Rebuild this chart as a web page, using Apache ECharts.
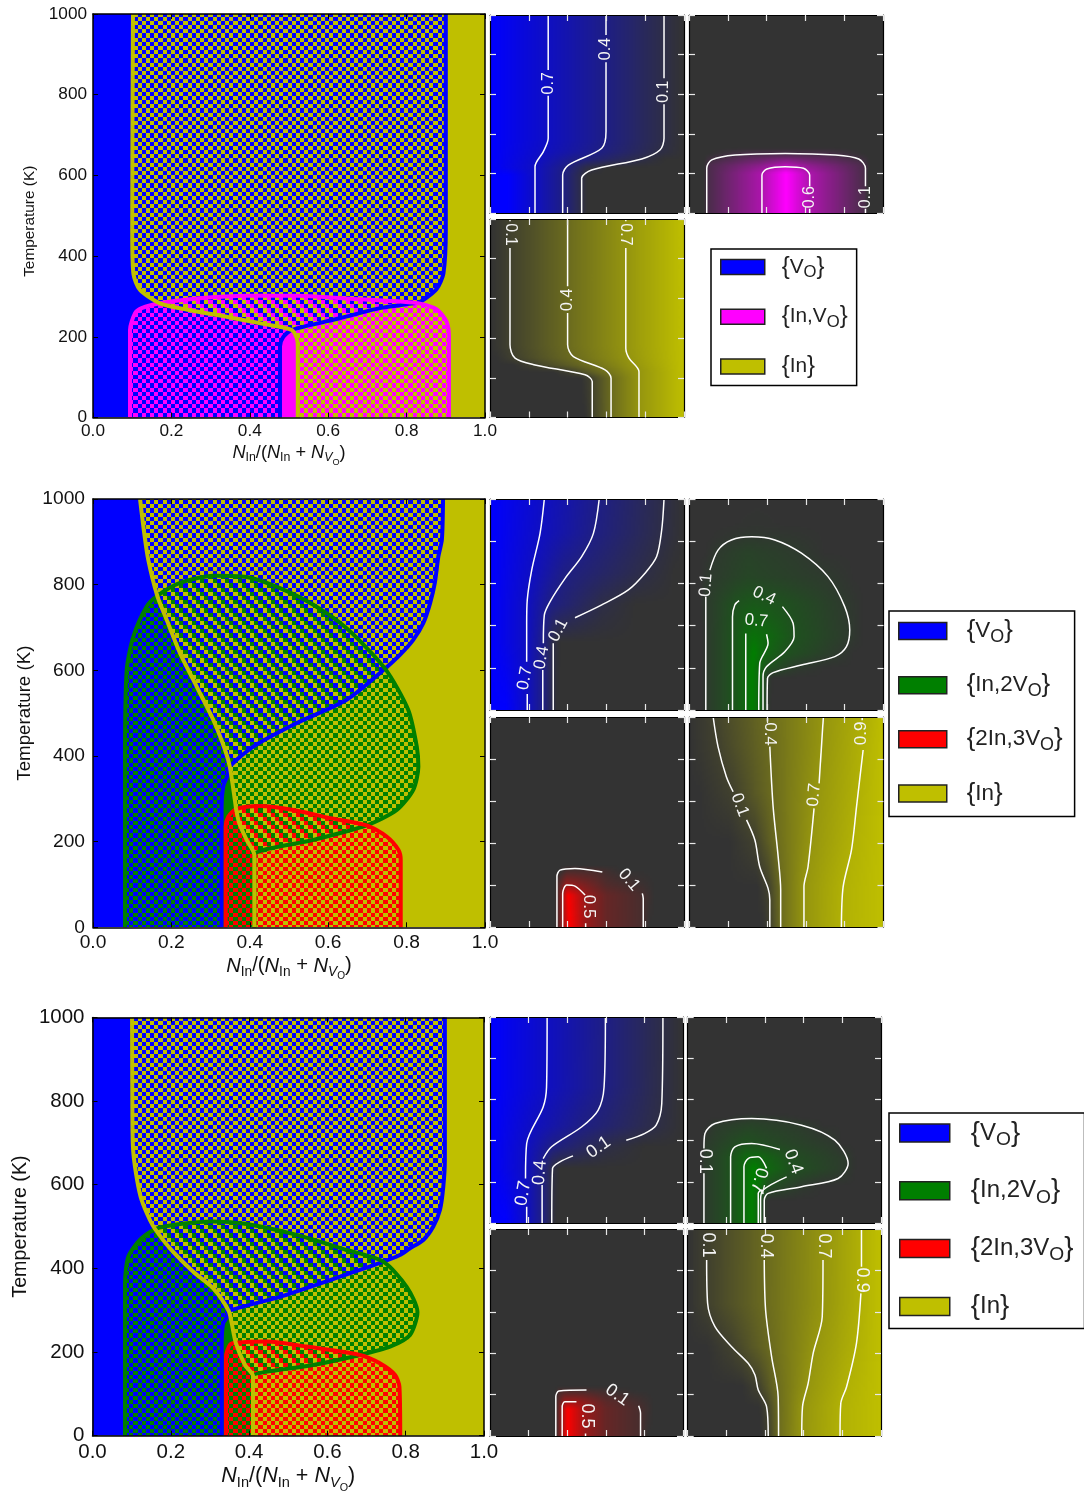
<!DOCTYPE html>
<html><head><meta charset="utf-8">
<script src="https://cdn.jsdelivr.net/npm/echarts@6/dist/echarts.min.js"></script>
<style>html,body{margin:0;padding:0;background:#fff}#c{width:1084px;height:1493px}</style></head>
<body><div id="c"></div>
<script>
/* ---------- phase colours ---------- */
const BLUE='#0000FF', YEL='#BFBF00', MAG='#FF00FF', GRN='#007F00', RED='#FF0000';
const xTicksStep=0.2, yTicksStep=200;

/* ---------- top phase diagram boundaries [x,T] ---------- */
const topI1=[.171,283], topI2=[.825,284], topC=[.507,217];
const topB1=[[.9,1000],[.9,465],[.894,357],[.877,319],[.845,293],topI2];
const topB2=[topI2,[.732,271],[.63,246],topC];
const topB3=[topC,[.4855,200],[.477,176],[.477,0]];
const topY1=[[.102,1000],[.1,465],[.103,357],[.12,316],topI1];
const topY2=[topI1,[.2474,266],[.349,248],[.4515,229],topC];
const topY3=[topC,[.52,196],[.5224,176],[.5224,0]];
const topM1=[[.0944,0],[.0944,217],[.107,258],[.124,271],topI1];
const topM2=[topI1,[.2645,295],[.392,302],[.52,302],[.647,295],topI2];
const topM3=[topI2,[.877,268],[.902,237],[.908,200],[.908,0]];

/* ---------- middle phase diagram ---------- */
const midI1=[.164,774], midI2=[.745,604], midC1=[.349,375], midR1=[.365,276], midR2=[.698,238], midC2=[.4116,169];
const midB1=[[.893,1000],[.89,905],[.881,866],[.872,804],[.86,757],[.8425,710],[.817,671],[.783,636],midI2];
const midB2=[midI2,[.647,531],[.52,477],[.409,422],midC1];
const midB3=[midC1,[.342,352],[.332,328],[.328,280],[.328,0]];
const midY1=[[.12,1000],[.13,925],[.141,858],midI1];
const midY2=[midI1,[.188,718],[.222,640],[.2645,562],[.307,484],[.337,414],midC1];
const midY3=[midC1,[.362,297],midR1];
const midY4=[midR1,[.373,243],[.392,204],midC2];
const midY5=[midC2,[.4116,134],[.4116,0]];
const midG1=[[.0816,0],[.0816,400],[.086,601],[.103,679],[.137,749],midI1];
const midG2=[midI1,[.222,804],[.307,821],[.392,818],[.477,792],[.562,753],[.647,698],midI2];
const midG3=[midI2,[.804,508],[.826,422],[.83,375],[.817,321],[.775,274],midR2];
const midG4=[midR2,[.562,204],midC2];
const midR1s=[[.3385,0],[.3385,235],[.345,258],midR1];
const midR2s=[midR1,[.426,283],[.511,274],[.605,255],midR2];
const midR3s=[midR2,[.749,212],[.779,181],[.785,157],[.785,0]];

/* ---------- bottom phase diagram ---------- */
const botI1=[.16,494], botI2=[.743,416], botC1=[.348,298], botR1=[.366,222], botR2=[.683,193], botC2=[.41,143];
const botB1=[[.9,1000],[.9,659],[.896,595],[.8876,540],[.8705,500],[.845,468],[.811,448],[.785,432],botI2];
const botB2=[botI2,[.607,372],[.479,332],botC1];
const botB3=[botC1,[.344,284],[.334,269],[.33,220],[.33,0]];
const botY1=[[.101,1000],[.102,750],[.104,680],[.114,611],[.1256,563],[.147,515],botI1];
const botY2=[botI1,[.198,448],[.2575,392],[.3086,352],botC1];
const botY3=[botC1,[.3555,269],botR1];
const botY4=[botR1,[.3895,169],botC2];
const botY5=[botC2,[.41,125],[.41,0]];
const botG1=[[.083,0],[.083,364],[.0915,428],[.121,468],botI1];
const botG2=[botI1,[.2235,506],[.3086,512],[.394,506],[.5216,480],[.649,444],botI2];
const botG3=[botI2,[.8025,356],[.83,296],[.811,241],[.76,213],botR2];
const botG4=[botR2,[.564,169],botC2];
const botR1s=[[.341,0],[.341,189],[.351,217],botR1];
const botR2s=[botR1,[.445,225],[.547,213],botR2];
const botR3s=[botR2,[.734,173],[.773,145],[.784,117],[.786,0]];

/* ---------- small panels: field rows [T, [[x,v]...]], contours [x,T], labels [x,T,text,deg] ---------- */
const topAField=[[1000,[[0,1],[.3,.7],[.598,.4],[.897,.1],[1,0]]],[370,[[0,1],[.3,.7],[.598,.4],[.897,.1],[1,0]]],[310,[[0,1],[.275,.7],[.56,.4],[.875,.1],[1,0]]],[270,[[0,1],[.25,.7],[.44,.4],[.78,.1],[.9,0]]],[230,[[0,1],[.232,.7],[.385,.4],[.5,.1],[.6,0]]],[190,[[0,1],[.09,1],[.232,.7],[.3746,.4],[.4725,.1],[.5,0]]],[0,[[0,1],[.09,1],[.232,.7],[.3746,.4],[.4725,.1],[.5,0]]]];
const topALines=[[[.3,1000],[.3,722]],[[.3,592],[.3,377],[.275,310],[.232,234],[.232,0]],[[.598,1000],[.598,899]],[[.598,761],[.598,411],[.576,327],[.404,242],[.3746,192],[.3746,0]],[[.897,1000],[.897,680]],[[.897,549],[.897,377],[.876,318],[.782,273],[.524,217],[.4725,175],[.4725,0]]];
const topALabels=[[.3,655,'0.7',90],[.598,828,'0.4',90],[.897,613,'0.1',90]];

const topBField=[[1000,[[0,0]]],[330,[[0,0]]],[300,[[.1,0],[.3,.1],[.7,.1],[.9,0]]],[240,[[.08,0],[.1,.12],[.38,.45],[.5,.65],[.62,.45],[.9,.12],[.93,0]]],[200,[[.08,0],[.0914,.1],[.376,.6],[.5,1],[.622,.6],[.9096,.1],[.92,0]]],[0,[[.08,0],[.0914,.1],[.376,.6],[.5,1],[.622,.6],[.9096,.1],[.92,0]]]];
const topBLines=[[[.0914,0],[.0914,226],[.117,268],[.238,293],[.496,301],[.7545,293],[.875,273],[.9096,226],[.9096,135]],[[.9096,22],[.9096,0]],[[.376,0],[.376,192],[.4016,222],[.496,234],[.59,226],[.622,192],[.622,135]],[[.622,22],[.622,0]]];
const topBLabels=[[.9096,80,'0.1',90],[.622,80,'0.6',90]];

const topCField=[[1000,[[0,0],[.103,.1],[.4,.4],[.7,.7],[1,1]]],[360,[[0,0],[.103,.1],[.4,.4],[.7,.7],[1,1]]],[300,[[.03,0],[.129,.1],[.43,.4],[.7165,.7],[1,1]]],[265,[[.12,0],[.232,.1],[.5,.4],[.74,.7],[1,1]]],[230,[[.33,0],[.42,.1],[.57,.4],[.768,.7],[1,1]]],[200,[[.47,0],[.52,.1],[.624,.4],[.768,.7],[1,1]]],[0,[[.49,0],[.527,.1],[.624,.4],[.768,.7],[1,1]]]];
const topCLines=[[[.103,1000],[.103,989]],[[.103,854],[.103,366],[.129,299],[.232,265],[.49,215],[.527,181],[.527,0]],[[.4,1000],[.4,661]],[[.4,526],[.4,366],[.43,307],[.593,240],[.624,198],[.624,0]],[[.7,1000],[.7,989]],[[.7,854],[.7,349],[.7165,299],[.768,231],[.768,0]]];
const topCLabels=[[.103,922,'0.1',-90],[.4,593,'0.4',90],[.7,922,'0.7',-90]];

const midAField=[[1000,[[0,1],[.28,.7],[.563,.4],[.897,.1],[1,0]]],[840,[[0,1],[.258,.7],[.533,.4],[.885,.1],[1,0]]],[650,[[0,1],[.215,.7],[.38,.4],[.8,.1],[.95,0]]],[500,[[0,1],[.19,.7],[.31,.4],[.576,.1],[.75,0]]],[320,[[0,1],[.189,.7],[.275,.4],[.326,.1],[.36,0]]],[0,[[0,1],[.08,1],[.192,.7],[.272,.4],[.326,.1],[.34,0]]]];
const midALines=[[[.28,1000],[.258,837],[.215,663],[.192,521],[.189,411],[.189,229]],[[.192,76],[.192,0]],[[.563,1000],[.533,837],[.4725,727],[.387,624],[.309,513],[.28,450],[.275,316]],[[.272,190],[.272,0]],[[.897,1000],[.885,853],[.859,727],[.799,648],[.713,569],[.576,498],[.438,437]],[[.326,316],[.326,0]]];
const midALabels=[[.18,150,'0.7',80],[.266,248,'0.4',80],[.352,379,'0.1',62]];

const midBField=[[1000,[[0,0]]],[880,[[.2,0],[.35,.02],[.5,0]]],[820,[[.1,0],[.3,.08],[.5,.06],[.7,0]]],[750,[[.08,0],[.15,.1],[.3,.2],[.56,.1],[.7,0]]],[630,[[.05,0],[.105,.1],[.3,.25],[.71,.1],[.85,0]]],[500,[[.06,0],[.084,.1],[.24,.4],[.33,.5],[.48,.4],[.8,.1],[.9,0]]],[350,[[.07,0],[.084,.1],[.2216,.4],[.29,.7],[.33,.8],[.4,.7],[.54,.4],[.82,.1],[.9,0]]],[270,[[.07,0],[.084,.1],[.2216,.4],[.29,.7],[.33,1],[.38,.7],[.49,.4],[.76,.1],[.85,0]]],[200,[[.07,0],[.084,.1],[.2216,.4],[.29,.7],[.32,1],[.36,.7],[.397,.4],[.55,.1],[.7,0]]],[150,[[.07,0],[.084,.1],[.2216,.4],[.29,.7],[.32,1],[.36,.7],[.379,.4],[.402,.1],[.43,0]]],[0,[[.07,0],[.084,.1],[.2216,.4],[.29,.7],[.32,1],[.357,.7],[.379,.4],[.4,.1],[.42,0]]]];
const midBLines=[[[.084,0],[.084,537]],[[.105,663],[.147,758],[.216,806],[.32,821],[.44,806],[.577,743],[.714,632],[.8,490],[.826,379],[.809,300],[.749,253],[.577,213],[.431,177],[.402,150],[.4,0]],[[.2216,0],[.2216,442],[.2335,498],[.2557,518]],[[.479,490],[.534,411],[.539,347],[.491,276],[.397,205],[.379,158],[.379,0]],[[.29,0],[.29,363]],[[.397,359],[.405,316],[.362,221],[.357,0]]];
const midBLabels=[[.085,592,'0.1',85],[.385,540,'0.4',-25],[.345,422,'0.7',-5]];

const midCField=[[1000,[[0,0]]],[295,[[0,0]]],[270,[[.36,0],[.4,.1],[.55,.1],[.68,0]]],[200,[[.34,0],[.345,.1],[.395,.5],[.438,.45],[.6,.15],[.78,.05],[.85,0]]],[150,[[.34,0],[.345,.1],[.375,.5],[.4,1],[.49,.5],[.6,.25],[.785,.1],[.85,0]]],[0,[[.34,0],[.345,.1],[.3746,.5],[.41,1],[.493,.5],[.6,.25],[.79,.1],[.82,0]]]];
const midCLines=[[[.345,0],[.345,240],[.361,271],[.438,279],[.579,262]],[[.785,160],[.79,136],[.79,0]],[[.3746,0],[.3746,160],[.395,200],[.438,195],[.49,152]],[[.493,18],[.493,0]]];
const midCLabels=[[.7165,224,'0.1',-50],[.507,97,'0.5',-90]];

const midDField=[[1000,[[0,0],[.122,.1],[.402,.4],[.69,.7],[.92,.9],[1,1]]],[860,[[0,0],[.147,.1],[.414,.4],[.68,.7],[.895,.9],[1,1]]],[640,[[.05,0],[.225,.1],[.425,.4],[.65,.7],[.875,.9],[1,1]]],[410,[[.2,0],[.337,.1],[.445,.4],[.625,.7],[.84,.9],[1,1]]],[190,[[.35,0],[.405,.1],[.47,.4],[.59,.7],[.792,.9],[1,1]]],[0,[[.38,0],[.414,.1],[.47,.4],[.59,.7],[.783,.9],[1,1]]]];
const midDLines=[[[.122,1000],[.147,859],[.19,716],[.225,644]],[[.294,510],[.337,414],[.362,287],[.405,184],[.414,129],[.414,0]],[[.402,1000],[.402,978]],[[.414,859],[.431,573],[.457,335],[.47,176],[.47,0]],[[.69,1000],[.668,684]],[[.642,565],[.611,287],[.59,192],[.59,0]],[[.89,1000],[.89,985]],[[.895,843],[.861,573],[.835,367],[.792,192],[.783,0]]];
const midDLabels=[[.259,581,'0.1',-70],[.414,919,'0.4',-90],[.642,629,'0.7',85],[.887,922,'0.9',90]];

const botAField=[[1000,[[0,1],[.296,.7],[.598,.4],[.896,.1],[1,0]]],[660,[[0,1],[.293,.7],[.591,.4],[.89,.1],[1,0]]],[470,[[0,1],[.22,.7],[.474,.4],[.86,.1],[1,0]]],[370,[[0,1],[.19,.7],[.319,.4],[.6,.1],[.8,0]]],[265,[[0,1],[.184,.7],[.27,.4],[.324,.1],[.36,0]]],[0,[[0,1],[.08,1],[.19,.7],[.27,.4],[.32,.1],[.34,0]]]];
const botALines=[[[.296,1000],[.293,660],[.2755,563],[.19,386],[.184,216]],[[.19,79],[.19,0]],[[.598,1000],[.591,660],[.56,547],[.474,466],[.319,370],[.2755,313]],[[.27,184],[.27,0]],[[.896,1000],[.89,580],[.861,475],[.8,434],[.706,402]],[[.43,326],[.362,297],[.324,265],[.32,0]]];
const botALabels=[[.172,144,'0.7',80],[.258,245,'0.4',85],[.563,367,'0.1',35]];

const botBField=[[1000,[[0,0]]],[530,[[0,0]]],[510,[[.2,0],[.33,.1],[.5,.05],[.6,0]]],[480,[[.1,0],[.141,.1],[.33,.2],[.589,.1],[.7,0]]],[385,[[.08,0],[.09,.1],[.3,.4],[.42,.3],[.74,.1],[.8,0]]],[320,[[.07,0],[.084,.1],[.222,.4],[.3,.7],[.365,.7],[.53,.35],[.82,.1],[.87,0]]],[265,[[.07,0],[.084,.1],[.222,.4],[.291,.7],[.34,1],[.408,.7],[.53,.4],[.82,.1],[.87,0]]],[180,[[.07,0],[.084,.1],[.222,.4],[.291,.7],[.33,1],[.37,.8],[.42,.35],[.58,.1],[.7,0]]],[110,[[.07,0],[.084,.1],[.222,.4],[.291,.7],[.33,1],[.365,.7],[.377,.4],[.396,.1],[.42,0]]],[0,[[.07,0],[.084,.1],[.222,.4],[.291,.7],[.33,1],[.365,.7],[.377,.4],[.396,.1],[.42,0]]]];
const botBLines=[[[.084,0],[.084,241]],[[.084,362],[.089,434],[.141,483],[.331,507],[.589,475],[.761,402],[.83,289],[.778,216],[.589,176],[.4165,144],[.396,111],[.396,0]],[[.222,0],[.222,321],[.244,370],[.331,386],[.477,357]],[[.512,224],[.39,160],[.377,111],[.377,0]],[[.291,0],[.291,273],[.313,313],[.365,321],[.408,265]],[[.365,0],[.365,144],[.38,160],[.39,140]]];
const botBLabels=[[.089,300,'0.1',-90],[.546,297,'0.4',-70],[.368,208,'0.7',-105]];

const botCField=[[1000,[[0,0]]],[240,[[0,0]]],[220,[[.34,0],[.357,.1],[.5,.1],[.62,.05],[.75,0]]],[166,[[.34,0],[.345,.1],[.388,.5],[.448,.5],[.6,.2],[.77,.08],[.85,0]]],[130,[[.34,0],[.345,.1],[.374,.5],[.4,1],[.495,.5],[.6,.25],[.78,.1],[.85,0]]],[0,[[.34,0],[.345,.1],[.374,.5],[.4,1],[.495,.5],[.6,.25],[.78,.1],[.82,0]]]];
const botCLines=[[[.341,0],[.341,190],[.357,217],[.5,222]],[[.77,146],[.78,110],[.78,0]],[[.374,0],[.374,142],[.388,166],[.448,166]],[[.495,12],[.495,0]]];
const botCLabels=[[.66,198,'0.1',-35],[.5,97,'0.5',-90]];

const botDField=[[1000,[[0,0],[.106,.1],[.405,.4],[.704,.7],[.899,.9],[1,1]]],[640,[[0,0],[.103,.1],[.403,.4],[.696,.7],[.896,.9],[1,1]]],[430,[[.1,0],[.227,.1],[.43,.4],[.655,.7],[.875,.9],[1,1]]],[240,[[.28,0],[.365,.1],[.46,.4],[.62,.7],[.822,.9],[1,1]]],[140,[[.37,0],[.408,.1],[.47,.4],[.594,.7],[.792,.9],[1,1]]],[0,[[.38,0],[.4166,.1],[.47,.4],[.59,.7],[.788,.9],[1,1]]]];
const botDLines=[[[.098,850],[.103,641],[.141,528],[.227,431],[.313,351],[.348,295],[.365,222],[.408,142],[.4166,0]],[[.396,850],[.403,609],[.434,383],[.468,190],[.47,0]],[[.7,850],[.696,576],[.649,399],[.623,254],[.594,142],[.59,0]],[[.899,1000],[.899,818]],[[.896,689],[.873,448],[.822,238],[.792,158],[.788,0]]];
const botDLabels=[[.106,923,'0.1',-90],[.405,918,'0.4',-90],[.704,918,'0.7',-90],[.904,753,'0.9',-90]];

/* ---------- legends ---------- */
const legendTop=['VO','In,VO','In'];
const legendFour=['VO','In,2VO','2In,3VO','In'];
const legendText={'VO':'{p| }{{t|V}{s|O}}','In,VO':'{p| }{{t|In,V}{s|O}}','In':'{p| }{{t|In}}','In,2VO':'{p| }{{t|In,2V}{s|O}}','2In,3VO':'{p| }{{t|2In,3V}{s|O}}'};

/* ---------- helpers ---------- */
const FONT='"Liberation Sans",Arial,sans-serif';
const grids=[],xAxes=[],yAxes=[],series=[],legends=[];
const chain=(...parts)=>{const o=[];parts.forEach(p=>p.forEach(q=>{const l=o[o.length-1];if(!l||l[0]!==q[0]||l[1]!==q[1])o.push(q);}));return o;};
const rev=a=>a.slice().reverse();
function pattern(cols){
  /* six checker cells per 25 px tile gives the 4.17 px cell of the picture */
  const tile=25,cells=6,c=document.createElement('canvas');
  c.width=c.height=tile;const g=c.getContext('2d');const e=k=>Math.round(k*tile/cells);
  for(let i=0;i<cells;i++)for(let j=0;j<cells;j++){
    g.fillStyle=cols.length===2?cols[(i+j)%2]:cols[(i-j+6)%3];
    g.fillRect(e(i),e(j),e(i+1)-e(i),e(j+1)-e(j));}
  return {image:c,repeat:'repeat'};
}
function addPanel(r,main,fs,lm,ym){
  const gi=grids.length;
  grids.push({left:r[0],top:r[1],width:r[2]-r[0],height:r[3]-r[1],show:false,outerBoundsMode:'none'});
  const tick=main?{show:true,inside:true,length:5,lineStyle:{color:'#000',width:1}}:{show:true,inside:true,length:6,lineStyle:{color:'#e8e8e8',width:1.2}};
  const line={show:true,onZero:false,lineStyle:{color:'#000',width:main?1.5:1.2}};
  const mk=(pos,lab,extra)=>Object.assign({gridIndex:gi,type:'value',position:pos,z:10,silent:true,axisLine:line,axisTick:tick,splitLine:{show:false},
     axisLabel:{show:lab,color:'#111',fontFamily:FONT,fontSize:fs,margin:ym||6,formatter:v=>String(v)}},extra);
  const xi=xAxes.length,yi=yAxes.length;
  xAxes.push(mk('bottom',main,{min:0,max:1,interval:xTicksStep,axisLabel:{show:main,color:'#111',fontFamily:FONT,fontSize:fs,margin:lm||5,formatter:v=>v.toFixed(1)}}));
  xAxes.push(mk('top',false,{min:0,max:1,interval:xTicksStep}));
  yAxes.push(mk('left',main,{min:0,max:1000,interval:yTicksStep}));
  yAxes.push(mk('right',false,{min:0,max:1000,interval:yTicksStep}));
  return {xi,yi};
}
function region(ax,ring,fill){
  series.push({type:'custom',coordinateSystem:'cartesian2d',xAxisIndex:ax.xi,yAxisIndex:ax.yi,clip:true,silent:true,z:1,
    encode:{x:0,y:1},data:ring,
    renderItem:(p,api)=>p.dataIndex!==0?null:{type:'polygon',shape:{points:ring.map(q=>api.coord(q))},style:{fill:fill}}});
}
function stroke(ax,name,pts,col,z){
  series.push({type:'line',name:name,xAxisIndex:ax.xi,yAxisIndex:ax.yi,data:pts,symbol:'none',smooth:.25,z:z,silent:true,
    itemStyle:{color:col},lineStyle:{color:col,width:4},clip:true,animation:false});
}
function fieldCanvas(rows,col){
  const W=100,H=100,c=document.createElement('canvas');c.width=W;c.height=H;const g=c.getContext('2d');
  const im=g.createImageData(W,H);
  const hex=s=>[1,3,5].map(i=>parseInt(s.substr(i,2),16));const a=[0x33,0x33,0x33],b=hex(col);
  const prof=(st,x)=>{if(x<=st[0][0])return st[0][1];for(let i=1;i<st.length;i++)if(x<=st[i][0]){const t=(x-st[i-1][0])/(st[i][0]-st[i-1][0]);return st[i-1][1]+t*(st[i][1]-st[i-1][1]);}return st[st.length-1][1];};
  for(let j=0;j<H;j++){const T=1000*(1-(j+.5)/H);let k=0;while(k<rows.length-2&&T<rows[k+1][0])k++;
    const t=(rows[k][0]-T)/(rows[k][0]-rows[k+1][0]);
    for(let i=0;i<W;i++){const x=(i+.5)/W;const v=prof(rows[k][1],x)*(1-t)+prof(rows[k+1][1],x)*t;
      const o=(j*W+i)*4;for(let m=0;m<3;m++)im.data[o+m]=a[m]+(b[m]-a[m])*v;im.data[o+3]=255;}}
  g.putImageData(im,0,0);return c;
}
function small(r,rows,lines,labels,col,fs){
  const ax=addPanel(r,false,10),img=fieldCanvas(rows,col);
  series.push({type:'custom',coordinateSystem:'cartesian2d',xAxisIndex:ax.xi,yAxisIndex:ax.yi,clip:true,silent:true,z:1,encode:{x:0,y:1},
    data:[[0,1000],[1,0]],renderItem:(p,api)=>{if(p.dataIndex!==0)return null;const A=api.coord([0,1000]),B=api.coord([1,0]);
      return {type:'image',style:{image:img,x:A[0],y:A[1],width:B[0]-A[0],height:B[1]-A[1]}};}});
  lines.forEach(l=>series.push({type:'line',xAxisIndex:ax.xi,yAxisIndex:ax.yi,data:l,symbol:'none',smooth:.3,z:3,silent:true,lineStyle:{color:'#fff',width:1.5},itemStyle:{color:'#fff'},animation:false}));
  series.push({type:'custom',coordinateSystem:'cartesian2d',xAxisIndex:ax.xi,yAxisIndex:ax.yi,silent:true,z:4,encode:{x:0,y:1},data:labels,
    renderItem:(p,api)=>{const L=labels[p.dataIndex],q=api.coord([L[0],L[1]]);
      return {type:'text',x:q[0],y:q[1],rotation:L[3]*Math.PI/180,style:{text:L[2],fill:'#f4f4f4',font:fs+'px '+FONT,align:'center',verticalAlign:'middle'}};}});
}
const AXNAME='{i|N}{s|In}{n|/(}{i|N}{s|In}{n| + }{i|N}{v|V}{o|O}{n|)}';
function naming(ax,xfs,xgap,yfs,ygap,ypad){
  const X=xAxes[ax.xi],Y=yAxes[ax.yi];
  X.name=AXNAME;X.nameLocation='middle';X.nameGap=xgap;
  X.nameTextStyle={color:'#111',fontFamily:FONT,rich:{
    i:{fontStyle:'italic',fontSize:xfs,fontFamily:FONT,color:'#111'},n:{fontSize:xfs,fontFamily:FONT,color:'#111'},
    s:{fontSize:xfs*.68,fontFamily:FONT,color:'#111',padding:[xfs*.6,0,0,0]},
    v:{fontSize:xfs*.68,fontStyle:'italic',fontFamily:FONT,color:'#111',padding:[xfs*.6,0,0,0]},
    o:{fontSize:xfs*.5,fontFamily:FONT,color:'#111',padding:[xfs*1.05,0,0,0]}}};
  Y.name='Temperature (K)';Y.nameLocation='middle';Y.nameGap=ygap;Y.nameTextStyle={color:'#111',fontFamily:FONT,fontSize:yfs,padding:ypad||0};
}
function addLegend(names,left,top,pad,gap,iw,ih,fs,sp){
  legends.push({data:names,left:left,top:top,orient:'vertical',padding:pad,itemGap:gap,itemWidth:iw,itemHeight:ih,icon:'rect',selectedMode:false,
    backgroundColor:'#fff',borderColor:'#000',borderWidth:1.5,itemStyle:{borderColor:'#222',borderWidth:1.5},z:20,
    formatter:n=>legendText[n],
    textStyle:{fontFamily:FONT,fontSize:fs*1.15,fontWeight:300,color:'#222',rich:{
      p:{width:sp,fontSize:10},t:{fontSize:fs,fontFamily:FONT,color:'#222'},s:{fontSize:fs*.8,fontFamily:FONT,color:'#222',padding:[fs*.55,0,0,0]}}}});
}

/* ---------- top row ---------- */
const a1=addPanel([93,14,485,417.5],true,17.2,5,6);naming(a1,18.2,21,15.4,56,[0,11,0,0]);
region(a1,[[0,0],[1,0],[1,1000],[0,1000]],YEL);
region(a1,chain([[0,1000]],topB1,topB2,topB3,[[0,0]]),BLUE);
region(a1,chain(topY1,topM2,rev(topB1)),pattern([BLUE,YEL]));
region(a1,chain(topM2,topB2,rev(topY2)),pattern([BLUE,YEL,MAG]));
region(a1,chain(topM1,topY2,topB3),pattern([BLUE,MAG]));
region(a1,chain(rev(topB3),topY3),MAG);
region(a1,chain(rev(topB2),topM3,rev(topY3)),pattern([MAG,YEL]));
stroke(a1,'VO',chain(topB1,topB2,topB3),BLUE,3);
stroke(a1,'In,VO',chain(topM1,topM2,topM3),MAG,3);
stroke(a1,'In',chain(topY1,topY2,topY3),YEL,4);
small([490,15,684,213],topAField,topALines,topALabels,BLUE,16);
small([689,15,883,213],topBField,topBLines,topBLabels,MAG,16);
small([490,219,684,417.5],topCField,topCLines,topCLabels,YEL,16);
addLegend(legendTop,711,249,[6,9,7,9],23.5,44,15,20.8,12);

/* ---------- shared layout for the two four-phase rows ---------- */
function fourPhase(ax,B1,B2,B3,Y1,Y2,Y3,Y4,Y5,G1,G2,G3,G4,R1,R2,R3){
  region(ax,[[0,0],[1,0],[1,1000],[0,1000]],YEL);
  region(ax,chain([[0,1000]],B1,B2,B3,[[0,0]]),BLUE);
  region(ax,chain(Y1,G2,rev(B1)),pattern([BLUE,YEL]));
  region(ax,chain(G2,B2,rev(Y2)),pattern([BLUE,YEL,GRN]));
  region(ax,chain(G1,Y2,B3),pattern([BLUE,GRN]));
  region(ax,chain(rev(B3),Y3,rev(R1)),GRN);
  region(ax,chain(rev(B2),G3,rev(R2),rev(Y3)),pattern([GRN,YEL]));
  region(ax,chain(R2,G4,rev(Y4)),pattern([GRN,YEL,RED]));
  region(ax,chain(R1,Y4,Y5),pattern([GRN,RED]));
  region(ax,chain(rev(Y5),rev(G4),R3),pattern([RED,YEL]));
  stroke(ax,'VO',chain(B1,B2,B3),BLUE,3);
  stroke(ax,'In,2VO',chain(G1,G2,G3,G4,Y5),GRN,3);
  stroke(ax,'2In,3VO',chain(R1,R2,R3),RED,3);
  stroke(ax,'In',chain(Y1,Y2,Y3,Y4,Y5),YEL,4);
}
/* ---------- middle row ---------- */
const a2=addPanel([93,499,485,927.3],true,19.2,6,8);naming(a2,20.2,23,18.7,59);
fourPhase(a2,midB1,midB2,midB3,midY1,midY2,midY3,midY4,midY5,midG1,midG2,midG3,midG4,midR1s,midR2s,midR3s);
small([490,499,684,710],midAField,midALines,midALabels,BLUE,17);
small([689.5,499,883.5,710],midBField,midBLines,midBLabels,GRN,17);
small([490,717,684,927],midCField,midCLines,midCLabels,RED,17);
small([689.5,717,883.5,927],midDField,midDLines,midDLabels,YEL,17);
addLegend(legendFour,889,611,[7,12,10,9],26,48,17,22.4,15);

/* ---------- bottom row ---------- */
const a3=addPanel([92.5,1017.4,484,1435.7],true,20.5,6.5,8);naming(a3,21.5,24,19.7,62);
fourPhase(a3,botB1,botB2,botB3,botY1,botY2,botY3,botY4,botY5,botG1,botG2,botG3,botG4,botR1s,botR2s,botR3s);
small([490,1017,683,1223],botAField,botALines,botALabels,BLUE,18);
small([687.7,1017,881,1223],botBField,botBLines,botBLabels,GRN,18);
small([490,1229,683,1436],botCField,botCLines,botCLabels,RED,18);
small([687.7,1229,881,1436],botDField,botDLines,botDLabels,YEL,18);
addLegend(legendFour,889,1113,[6,11,8,10],27.7,50,18,24,16);

echarts.init(document.getElementById('c')).setOption({animation:false,backgroundColor:'#fff',grid:grids,xAxis:xAxes,yAxis:yAxes,legend:legends,series:series});
</script></body></html>
